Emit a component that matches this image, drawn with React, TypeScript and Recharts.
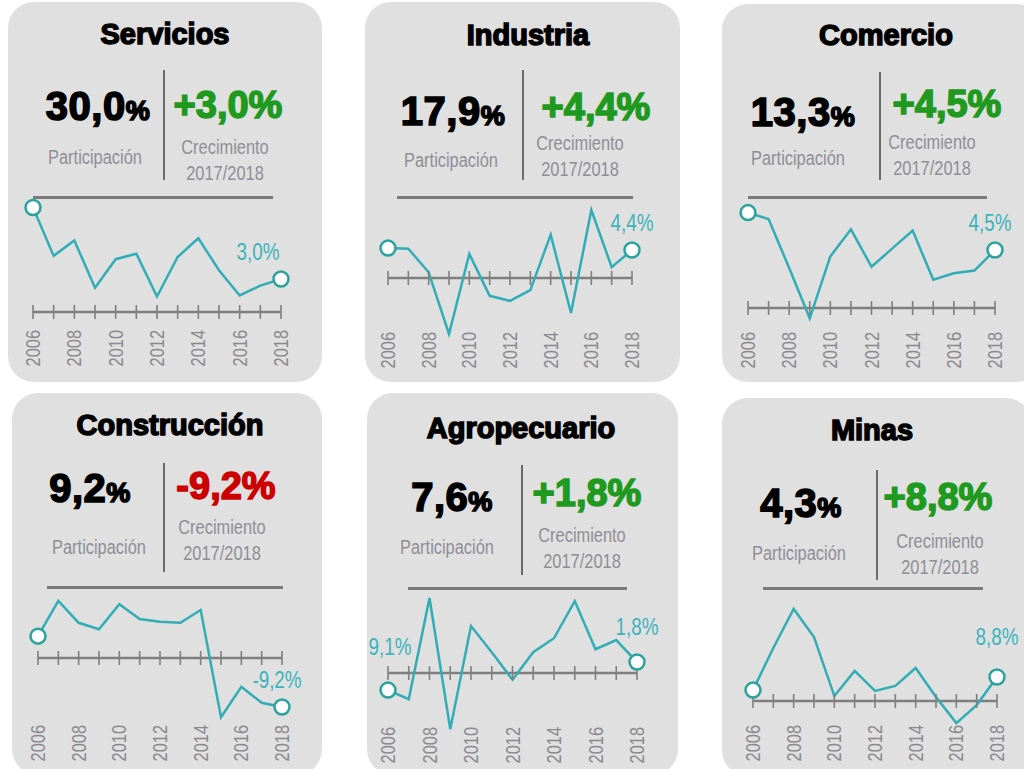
import { LineChart, Line, XAxis, YAxis, LabelList } from "recharts";

const years = ["2006", "2007", "2008", "2009", "2010", "2011", "2012", "2013", "2014", "2015", "2016", "2017", "2018"];
const yearTicks = ["2006", "2008", "2010", "2012", "2014", "2016", "2018"];

const sectors = ["Servicios", "Industria", "Comercio", "Construcción", "Agropecuario", "Minas"];
const shares = ["30,0", "17,9", "13,3", "9,2", "7,6", "4,3"];

// crecimiento anual por sector, 2006-2018
const servicios = [9.5, 5.1, 6.5, 2.2, 4.8, 5.3, 1.4, 5.0, 6.7, 3.8, 1.5, 2.4, 3.0];
const industria = [4.7, 4.6, 0.9, -8.8, 3.8, -2.8, -3.6, -1.9, 6.8, -5.5, 10.7, 1.7, 4.4];
const comercio = [7.4, 6.9, 3.1, -0.8, 4.0, 6.1, 3.2, 4.6, 6.0, 2.2, 2.7, 2.9, 4.5];
const construccion = [4.1, 10.7, 6.6, 5.4, 10.1, 7.3, 6.8, 6.6, 9.0, -11.1, -5.4, -8.4, -9.2];
const agropecuario = [-2.8, -4.3, 12.3, -9.2, 7.7, 3.4, -1.1, 3.4, 5.7, 11.8, 3.9, 5.4, 1.8];
const minas = [4.0, 19.4, 33.7, 23.4, 1.8, 11.0, 3.7, 5.5, 12.1, 1.5, -8.1, -1.5, 8.8];

const series = [servicios, industria, comercio, construccion, agropecuario, minas];
const startNotes = ["", "", "", "", "9,1%", ""];

const BOLD = "'Liberation Sans', Arial, sans-serif";
const NARROW = "'Liberation Sans', Arial, sans-serif"; // squeezed with scaleX below
const SQ = 0.82;
const TEAL = "#31adb5";
const GRID = "#7f7f7f";
const SUB = "#8e8e96";

const fmt = (v: number) => v.toFixed(1).replace(".", ",") + "%";
const fmtGrowth = (v: number) => (v > 0 ? "+" : "") + fmt(v);

// panel geometry (page pixels)
const layout = [
  { box: [8, 2, 314, 380], title: [165, 34], share: [98, 106], growth: [228, 105], part: [95, 157], crec: [225, 147], vdiv: [164, 70, 180], hdiv: [33, 273, 197], plot: [33, 281, 190, 340], domain: [-2.55, 11.09], labelTop: 330, endLabel: [-23, -27], startLabel: [0, 0] },
  { box: [365, 2, 315, 380], title: [528, 35], share: [453, 111], growth: [596, 107], part: [451, 160], crec: [580, 143], vdiv: [523, 70, 180], hdiv: [397, 633, 197], plot: [388, 632, 190, 340], domain: [-9.75, 13.84], labelTop: 332, endLabel: [0, -27], startLabel: [0, 0] },
  { box: [722, 4, 320, 378], title: [886, 35], share: [803, 112], growth: [947, 104], part: [798, 158], crec: [932, 142], vdiv: [880, 72, 180], hdiv: [748, 987, 197], plot: [748, 995, 190, 340], domain: [-2.48, 9.15], labelTop: 332, endLabel: [-5, -27], startLabel: [0, 0] },
  { box: [12, 393, 310, 382], title: [170, 425], share: [90, 488], growth: [226, 486], part: [99, 547], crec: [222, 527], vdiv: [164, 463, 572], hdiv: [47, 283, 587], plot: [38, 282, 580, 735], domain: [-14.45, 14.63], labelTop: 725, endLabel: [-5, -27], startLabel: [0, 0] },
  { box: [367, 393, 311, 382], title: [521, 428], share: [452, 497], growth: [587, 493], part: [447, 547], crec: [582, 535], vdiv: [522, 465, 575], hdiv: [408, 627, 588], plot: [388, 637, 580, 740], domain: [-10.98, 15.25], labelTop: 727, endLabel: [0, -35], startLabel: [2, -43] },
  { box: [722, 398, 310, 378], title: [872, 430], share: [801, 503], growth: [938, 497], part: [799, 553], crec: [940, 541], vdiv: [877, 470, 580], hdiv: [763, 983, 588], plot: [753, 997, 580, 735], domain: [-12.45, 44.3], labelTop: 725, endLabel: [0, -40], startLabel: [0, 0] },
];

const M = 30;
const XH = 45;

const centered = (cx: number, cy: number, sx = 1) => ({
  position: "absolute" as const,
  left: cx,
  top: cy,
  transform: `translate(-50%, -50%) scaleX(${sx})`,
  whiteSpace: "nowrap" as const,
  lineHeight: 1,
});

const YearTick = ({ x, y, payload, shift }: any) => (
  <text
    x={0}
    y={0}
    transform={`translate(${x},${y + shift}) rotate(-90) scale(${SQ},1)`}
    textAnchor="end"
    dy="0.35em"
    fill="#8a8a8e"
    fontSize={20}
    fontFamily={NARROW}
  >
    {payload.value}
  </text>
);

const AxisTick = ({ cx, cy, index }: any) => (
  <line key={`t${index}`} x1={cx} x2={cx} y1={cy - 7} y2={cy + 7} stroke={GRID} strokeWidth={1.6} />
);

const EndDot = ({ cx, cy, index }: any) => {
  if (index !== 0 && index !== years.length - 1) return <g key={`d${index}`} />;
  return <circle key={`d${index}`} cx={cx} cy={cy} r={7.5} fill="#fff" stroke="#2aa39c" strokeWidth={2.5} />;
};

const ValueText = ({ x, y, text }: { x: number; y: number; text: string }) => (
  <text
    x={0}
    y={0}
    transform={`translate(${x},${y}) scale(${SQ},1)`}
    textAnchor="middle"
    dominantBaseline="central"
    fill="#3bb3bb"
    fontSize={23}
    fontFamily={NARROW}
  >
    {text}
  </text>
);

const Panel = ({ i }: { i: number }) => {
  const L = layout[i];
  const values = series[i];
  const rows = years.map((year, k) => ({ year, value: values[k], zero: 0 }));
  const [x0, x1, top, bottom] = L.plot;
  const last = values[values.length - 1];
  const growthColor = last < 0 ? "#cc0000" : "#1f9a1f";

  return (
    <>
      <div
        style={{
          position: "absolute",
          left: L.box[0],
          top: L.box[1],
          width: L.box[2],
          height: L.box[3],
          background: "#e0e0e0",
          borderRadius: 26,
        }}
      />
      <div style={{ ...centered(L.title[0], L.title[1]), fontFamily: BOLD, fontWeight: 700, fontSize: 29, color: "#000", WebkitTextStroke: "1.5px #000" }}>
        {sectors[i]}
      </div>
      <div style={{ ...centered(L.share[0], L.share[1]), fontFamily: BOLD, fontWeight: 700, fontSize: 40, color: "#000", WebkitTextStroke: "1.6px #000", letterSpacing: 0.5 }}>
        {shares[i]}
        <span style={{ fontSize: 27 }}>%</span>
      </div>
      <div style={{ ...centered(L.growth[0], L.growth[1]), fontFamily: BOLD, fontWeight: 700, fontSize: 38, color: growthColor, WebkitTextStroke: `1.5px ${growthColor}` }}>
        {fmtGrowth(last)}
      </div>
      <div style={{ ...centered(L.part[0], L.part[1], SQ), fontFamily: NARROW, fontSize: 20, color: SUB }}>Participación</div>
      <div style={{ ...centered(L.crec[0], L.crec[1], SQ), fontFamily: NARROW, fontSize: 20, color: SUB }}>Crecimiento</div>
      <div style={{ ...centered(L.crec[0], L.crec[1] + 26, SQ), fontFamily: NARROW, fontSize: 20, color: SUB }}>2017/2018</div>
      <div style={{ position: "absolute", left: L.vdiv[0] - 1, top: L.vdiv[1], width: 2, height: L.vdiv[2] - L.vdiv[1], background: "#6a6a6a" }} />
      <div style={{ position: "absolute", left: L.hdiv[0], top: L.hdiv[2] - 1, width: L.hdiv[1] - L.hdiv[0], height: 3, background: "#7a7a7a" }} />
      <div style={{ position: "absolute", left: x0 - M, top: top - M }}>
        <LineChart
          width={x1 - x0 + 2 * M}
          height={bottom - top + M + XH}
          margin={{ top: M, right: M, bottom: 0, left: M }}
          data={rows}
        >
          <XAxis
            dataKey="year"
            ticks={yearTicks}
            interval={0}
            height={XH}
            axisLine={false}
            tickLine={false}
            tickSize={0}
            tickMargin={0}
            tick={(p: any) => <YearTick {...p} shift={L.labelTop - bottom} />}
          />
          <YAxis hide type="number" domain={L.domain} allowDataOverflow />
          <Line dataKey="zero" stroke={GRID} strokeWidth={2.5} dot={AxisTick} activeDot={false} isAnimationActive={false} />
          <Line dataKey="value" stroke={TEAL} strokeWidth={2.5} dot={EndDot} activeDot={false} isAnimationActive={false}>
            <LabelList
              dataKey="value"
              content={(p: any) => {
                const { x, y, value, index } = p;
                if (index === years.length - 1) {
                  return <ValueText x={x + L.endLabel[0]} y={y + L.endLabel[1]} text={fmt(value)} />;
                }
                if (index === 0 && startNotes[i]) {
                  return <ValueText x={x + L.startLabel[0]} y={y + L.startLabel[1]} text={startNotes[i]} />;
                }
                return null;
              }}
            />
          </Line>
        </LineChart>
      </div>
    </>
  );
};

export default function App() {
  return (
    <div style={{ position: "absolute", left: 0, top: 0, width: 1024, height: 769, overflow: "hidden", background: "#fff" }}>
      {sectors.map((_, i) => (
        <Panel key={i} i={i} />
      ))}
    </div>
  );
}
